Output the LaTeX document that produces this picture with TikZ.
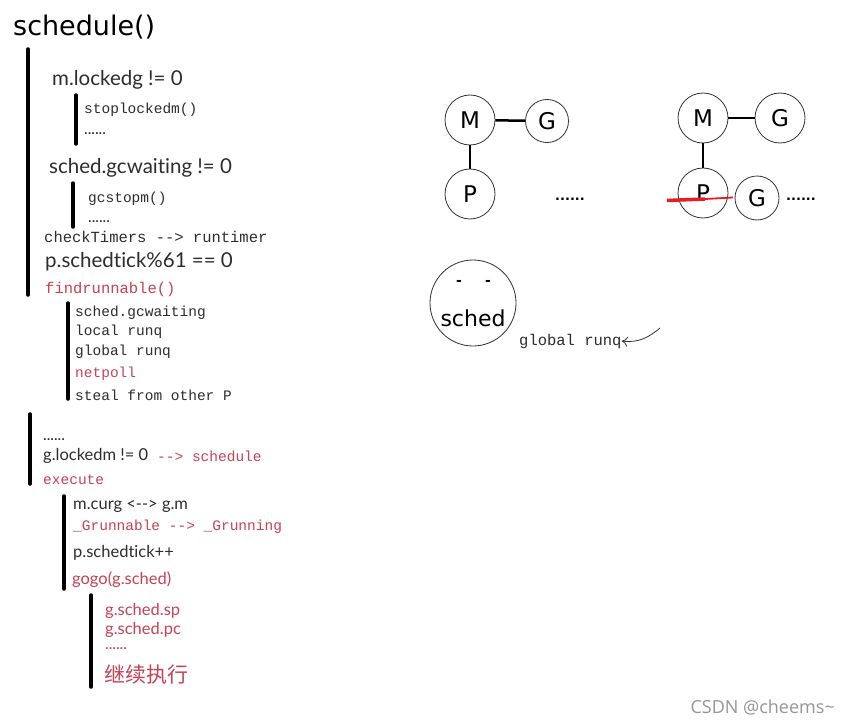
\documentclass[tikz,border=0pt]{standalone}
\usepackage{fontspec}
\usetikzlibrary{arrows.meta}
\setmainfont{Liberation Mono}
\newfontfamily\sansf[Ligatures=NoCommon]{Lato}
\newfontfamily\wmf{Open Sans}
\newfontfamily\handf{DejaVu Sans}
\newfontfamily\cjk{Noto Sans CJK SC}
\definecolor{txt}{RGB}{45,45,45}
\definecolor{redt}{RGB}{200,65,85}
\definecolor{strike}{RGB}{230,30,35}
\definecolor{wm}{RGB}{150,150,150}
\begin{document}
\begin{tikzpicture}[x=1pt,y=-1pt,
  bar/.style={line width=3.5pt, line cap=round, black},
  code/.style={anchor=west, inner sep=0pt, text=txt, font=\fontsize{14.5}{16}\selectfont},
  bigcode/.style={anchor=west, inner sep=0pt, text=txt, font=\fontsize{15.5}{17}\selectfont},
  sans/.style={anchor=west, inner sep=0pt, text=txt, font=\sansf\fontsize{16.5}{18}\selectfont},
  bigsans/.style={anchor=west, inner sep=0pt, text=txt, font=\sansf\fontsize{20.5}{22}\selectfont},
  dots/.style={anchor=west, inner sep=0pt, text=txt, font=\handf\bfseries\fontsize{9.5}{10}\selectfont},
  bigdots/.style={anchor=west, inner sep=0pt, text=black, font=\handf\bfseries\fontsize{13}{14}\selectfont},
  red/.style={text=redt},
  circ/.style={circle, draw=black!80, line width=0.8pt, inner sep=0pt, font=\handf\fontsize{23}{25}\selectfont},
  link/.style={line width=2.5pt, black}
]
\useasboundingbox (0,0) rectangle (849,725);
\fill[white] (0,0) rectangle (849,725);

% title
\node[anchor=west, inner sep=0pt, font=\handf\fontsize{27}{30}\selectfont] (title) at (13,27) {schedule()};

% first block
\draw[bar] (28,49) -- (28,295);
\node[bigsans] (t1) at (52,80) {m.lockedg != 0};
\draw[bar] (76,95) -- (76,144);
\node[code] (t2) at (84,110) {stoplockedm()};
\node[dots] (t3) at (84,134) {......};
\node[bigsans] (t4) at (49,168) {sched.gcwaiting != 0};
\draw[bar] (73,183) -- (73,227);
\node[code] (t5) at (88,199) {gcstopm()};
\node[dots] (t6) at (88,222) {......};
\node[bigcode] (t7) at (44,237) {checkTimers -{}-> runtimer};
\node[bigsans] (t8) at (45,262) {p.schedtick\%61 == 0};
\node[bigcode, red] (t9) at (45,289) {findrunnable()};
\draw[bar] (68,303) -- (68,399);
\node[code] (f1) at (75,313) {sched.gcwaiting};
\node[code] (f2) at (75,332) {local runq};
\node[code] (f3) at (75,352) {global runq};
\node[code, red] (f4) at (75,374) {netpoll};
\node[code] (f5) at (75,395) {steal from other P};

% second block
\draw[bar] (30,414) -- (30,484);
\node[dots] (s1) at (43,440) {......};
\node[sans] (s2) at (43,456) {g.lockedm != 0};
\node[code, red] (s3) at (157,456) {-{}-> schedule};
\node[code, red] (s4) at (43,480) {execute};
\draw[bar] (64,496) -- (64,589);
\node[sans] (e1) at (73,506) {m.curg <{}-{}-{}> g.m};
\node[code, red] (e2) at (73,527) {\_Grunnable -{}-> \_Grunning};
\node[sans] (e3) at (73,553) {p.schedtick++};
\node[sans, red] (e4) at (72,580) {gogo(g.sched)};
\draw[bar] (91,595) -- (91,687);
\node[sans, red] (g1) at (105,611) {g.sched.sp};
\node[sans, red] (g2) at (105,630) {g.sched.pc};
\node[dots, red] (g3) at (105,649) {......};
\node[anchor=west, inner sep=0pt, text=redt, font=\cjk\fontsize{21}{23}\selectfont] (g4) at (104,675) {继续执行};

% right: first group
\node[circ, minimum size=50pt] (M1) at (470,120) {M};
\node[circ, minimum size=43pt] (G1) at (547,121) {G};
\node[circ, minimum size=50pt] (P1) at (470,194) {P};
\draw[link] (M1) -- (G1);
\draw[link] (M1) -- (P1);
\node[bigdots] (d1) at (555,199) {......};

% right: second group
\node[circ, minimum size=50pt] (M2) at (703,118) {M};
\node[circ, minimum size=50pt] (G2) at (780,118) {G};
\node[circ, minimum size=50pt] (P2) at (703,193) {P};
\node[circ, minimum size=44pt] (G3) at (757,198) {G};
\draw[link] (M2) -- (G2);
\draw[link] (M2) -- (P2);
\draw[strike, line width=3.5pt] (667,200.5) -- (705,199);
\draw[strike, line width=1.8pt] (705,199) -- (733,197.5);
\node[bigdots] (d2) at (786,199) {......};

% sched circle
\node[circle, draw=black!80, line width=0.8pt, minimum size=86pt, inner sep=0pt] (S) at (473,303) {};
\node[inner sep=0pt, font=\handf\fontsize{22}{24}\selectfont] (Stext) at (473,318) {sched};
\node[inner sep=0pt, font=\handf\bfseries\fontsize{14}{16}\selectfont] (e1l) at (459,283) {-};
\node[inner sep=0pt, font=\handf\bfseries\fontsize{14}{16}\selectfont] (e2l) at (488,283) {-};
\node[code, font=\fontsize{15.5}{17}\selectfont] (gr) at (519,341) {global runq};
\coordinate (arrS) at (660,328);
\draw[-{To[length=6pt,width=10pt]}, line width=0.8pt, black!80] (arrS) .. controls (648,338) and (638,343) .. (gr.east);

% watermark
\node[anchor=east, inner sep=0pt, text=wm, font=\wmf\fontsize{18}{20}\selectfont] (wmk) at (835,707) {CSDN @cheems\textasciitilde};
\end{tikzpicture}
\end{document}
